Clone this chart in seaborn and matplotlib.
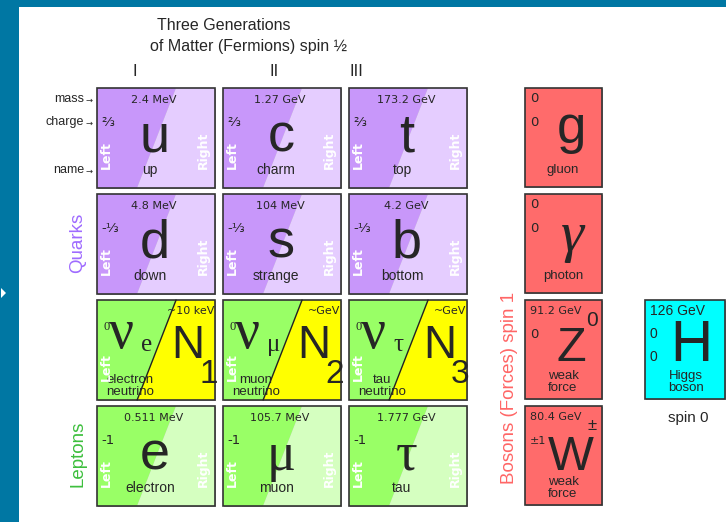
import matplotlib
matplotlib.use("Agg")
import matplotlib.pyplot as plt
from matplotlib.patches import Polygon, Rectangle
import seaborn as sns

# ---- chart data ----
generations = ["I", "II", "III"]
row_labels = ["mass", "charge", "name"]

up_symbols = ["u", "c", "t"]
up_names = ["up", "charm", "top"]
up_masses = ["2.4 MeV", "1.27 GeV", "173.2 GeV"]
down_symbols = ["d", "s", "b"]
down_names = ["down", "strange", "bottom"]
down_masses = ["4.8 MeV", "104 MeV", "4.2 GeV"]
quark_charges = ["⅔", "-⅓"]

nu_flavours = ["e", "μ", "τ"]
nu_names = ["electron\nneutrino", "muon\nneutrino", "tau\nneutrino"]
sterile_index = ["1", "2", "3"]
sterile_masses = ["~10 keV", "~GeV", "~GeV"]

lepton_symbols = ["e", "μ", "τ"]
lepton_names = ["electron", "muon", "tau"]
lepton_masses = ["0.511 MeV", "105.7 MeV", "1.777 GeV"]
lepton_charge = "-1"

boson_symbols = ["g", "γ", "Z", "W"]
boson_names = ["gluon", "photon", "weak\nforce", "weak\nforce"]
boson_masses = ["0", "0", "91.2 GeV", "80.4 GeV"]
boson_charges = ["0", "0", "0", "±1"]
boson_sups = ["", "", "0", "±"]

higgs_symbol = "H"
higgs_name = "Higgs\nboson"
higgs_mass = "126 GeV"
higgs_charge = "0"
higgs_spin = "0"

# ---- colours ----
sns.set_theme(style="white")
plt.rcParams["font.family"] = ["DejaVu Sans"]
pal = {
    "frame": "#0077a3",
    "quark_l": "#c897fa", "quark_r": "#e5cdff",
    "lep_l": "#99ff66", "lep_r": "#d5ffc0",
    "nu_r": "#ffff00",
    "boson": "#ff6b6b", "higgs": "#00ffff",
    "q_lbl": "#9f6bff", "l_lbl": "#3dbf3d", "b_lbl": "#ff6666",
}
SANS = "Liberation Sans"
SERIF = "Liberation Serif"

# ---- layout (pixels) ----
W, H = 726, 522
col_x0, col_step, box_w = 97, 126, 118
row_y0, row_step, box_h = 88, 106, 100
bos_x, bos_w = 525, 77
hig_x, hig_w = 645, 80
gen_x = [135, 274, 356]

fig = plt.figure(figsize=(W / 100, H / 100), dpi=100)
ax = fig.add_axes([0, 0, 1, 1])
ax.set_xlim(0, W)
ax.set_ylim(H, 0)
ax.axis("off")

# frame
ax.add_patch(Rectangle((0, 0), W, 7, color=pal["frame"], lw=0))
ax.add_patch(Rectangle((0, 0), 19, H, color=pal["frame"], lw=0))
ax.add_patch(Polygon([(1, 288), (6, 293), (1, 298)], color="white", lw=0))


def box(x, y, w, h, c1, c2=None, line=False):
    ax.add_patch(Rectangle((x + 1, y + 1), w, h, color="#b0b0b0", lw=0))
    if c2 is None:
        ax.add_patch(Rectangle((x, y), w, h, color=c1, lw=0))
    else:
        top, bot = x + 0.67 * w, x + 0.34 * w
        ax.add_patch(Polygon([(x, y), (top, y), (bot, y + h), (x, y + h)], color=c1, lw=0))
        ax.add_patch(Polygon([(top, y), (x + w, y), (x + w, y + h), (bot, y + h)], color=c2, lw=0))
        if line:
            ax.plot([top, bot], [y, y + h], color="#222222", lw=1)
    ax.add_patch(Rectangle((x, y), w, h, fill=False, ec="#333333", lw=1.2))


def hand_labels(x, y, right=True):
    ax.text(x + 9, y + 67, "Left", rotation=90, color="white", fontsize=9,
            fontweight="bold", ha="center", va="center")
    if right:
        ax.text(x + 106, y + 62, "Right", rotation=90, color="white", fontsize=9,
                fontweight="bold", ha="center", va="center")


def fermion(x, y, sym, name, mass, charge, c1, c2, serif=False):
    box(x, y, box_w, box_h, c1, c2)
    ax.text(x + 57, y + 12, mass, fontsize=8, ha="center", va="center")
    ax.text(x + 4, y + 34, charge, fontsize=9.5, ha="left", va="center")
    ax.text(x + 58, y + 64, sym, fontsize=39, ha="center", va="baseline",
            family=SERIF if serif else SANS)
    ax.text(x + 53, y + 82, name, fontsize=10, ha="center", va="center", family=SANS)
    hand_labels(x, y)


# titles
ax.text(224, 26, "Three Generations", fontsize=11.5, ha="center", va="center", family=SANS)
ax.text(248, 46, "of Matter (Fermions) spin ½", fontsize=11.5, ha="center", va="center",
        family=SANS)
for g, gx in zip(generations, gen_x):
    ax.text(gx, 72, g, fontsize=12, ha="center", va="center", family=SANS)

for lbl, yy in zip(row_labels, [99, 122, 170]):
    ax.text(84, yy, lbl, fontsize=9, ha="right", va="center", family=SANS)
    ax.text(85, yy + 1, "→", fontsize=6, ha="left", va="center")

ax.text(78, 243, "Quarks", rotation=90, fontsize=13.5, color=pal["q_lbl"], ha="center",
        va="center", family=SANS)
ax.text(78, 454, "Leptons", rotation=90, fontsize=13.5, color=pal["l_lbl"], ha="center",
        va="center", family=SANS)
ax.text(509, 388, "Bosons (Forces) spin 1", rotation=90, fontsize=13.5, color=pal["b_lbl"],
        ha="center", va="center", family=SANS)

for i in range(3):
    x = col_x0 + i * col_step
    fermion(x, row_y0, up_symbols[i], up_names[i], up_masses[i], quark_charges[0],
            pal["quark_l"], pal["quark_r"])
    fermion(x, row_y0 + row_step, down_symbols[i], down_names[i], down_masses[i],
            quark_charges[1], pal["quark_l"], pal["quark_r"])
    fermion(x, row_y0 + 3 * row_step, lepton_symbols[i], lepton_names[i], lepton_masses[i],
            lepton_charge, pal["lep_l"], pal["lep_r"], serif=i > 0)

    # neutrino row
    y = row_y0 + 2 * row_step
    box(x, y, box_w, box_h, pal["lep_l"], pal["nu_r"], line=True)
    ax.text(x + 7, y + 30, "0", fontsize=9, family=SERIF, ha="left", va="baseline")
    ax.text(x + 12, y + 48, "ν", fontsize=40, family=SERIF, ha="left", va="baseline")
    ax.text(x + 44, y + 51, nu_flavours[i], fontsize=18, family=SERIF, ha="left",
            va="baseline")
    ax.text(x + 74, y + 58, "N", fontsize=33, family=SANS, ha="left", va="baseline")
    ax.text(x + 102, y + 83, sterile_index[i], fontsize=24, family=SANS, ha="left",
            va="baseline")
    ax.text(x + 117, y + 11, sterile_masses[i], fontsize=8, ha="right", va="center")
    ax.text(x + 33, y + 86, nu_names[i], fontsize=9.5, family=SANS, ha="center",
            va="center", linespacing=1.0)
    hand_labels(x, y, right=False)

# bosons
bos_base = [55, 57, 61, 64]
for j in range(4):
    y = row_y0 + j * row_step
    box(bos_x, y, bos_w, box_h - 1, pal["boson"])
    mfs = 8 if len(boson_masses[j]) > 1 else 9.5
    ax.text(bos_x + 5, y + 11, boson_masses[j], fontsize=mfs, ha="left", va="center")
    ax.text(bos_x + 5, y + 35, boson_charges[j], fontsize=9.5 if j < 3 else 8,
            ha="left", va="center")
    if j == 1:
        ax.text(bos_x + 47, y + bos_base[j], boson_symbols[j], fontsize=42, family=SERIF,
                style="italic", ha="center", va="baseline")
    else:
        ax.text(bos_x + 46, y + bos_base[j], boson_symbols[j],
                fontsize=35 if j > 1 else 38, family=SANS, ha="center", va="baseline")
    if boson_sups[j]:
        ax.text(bos_x + 67, y + 20, boson_sups[j], fontsize=15 if j == 2 else 12,
                family=SANS, ha="center", va="center")
    ax.text(bos_x + 38, y + 82, boson_names[j], fontsize=9.5, family=SANS, ha="center",
            va="center", linespacing=0.95)

# higgs
y = row_y0 + 2 * row_step
box(hig_x, y, hig_w, box_h - 1, pal["higgs"])
ax.text(hig_x + 5, y + 11, higgs_mass, fontsize=10, family=SANS, ha="left", va="center")
ax.text(hig_x + 5, y + 34, higgs_charge, fontsize=10, family=SANS, ha="left", va="center")
ax.text(hig_x + 5, y + 57, higgs_spin, fontsize=10, family=SANS, ha="left", va="center")
ax.text(hig_x + 46, y + 61, higgs_symbol, fontsize=42, family=SANS, ha="center",
        va="baseline")
ax.text(hig_x + 41, y + 82, higgs_name, fontsize=9.5, family=SANS, ha="center",
        va="center", linespacing=0.95)
ax.text(hig_x + 43, y + 118, "spin 0", fontsize=11, family=SANS, ha="center", va="center")

fig.savefig("out.png", dpi=100)
